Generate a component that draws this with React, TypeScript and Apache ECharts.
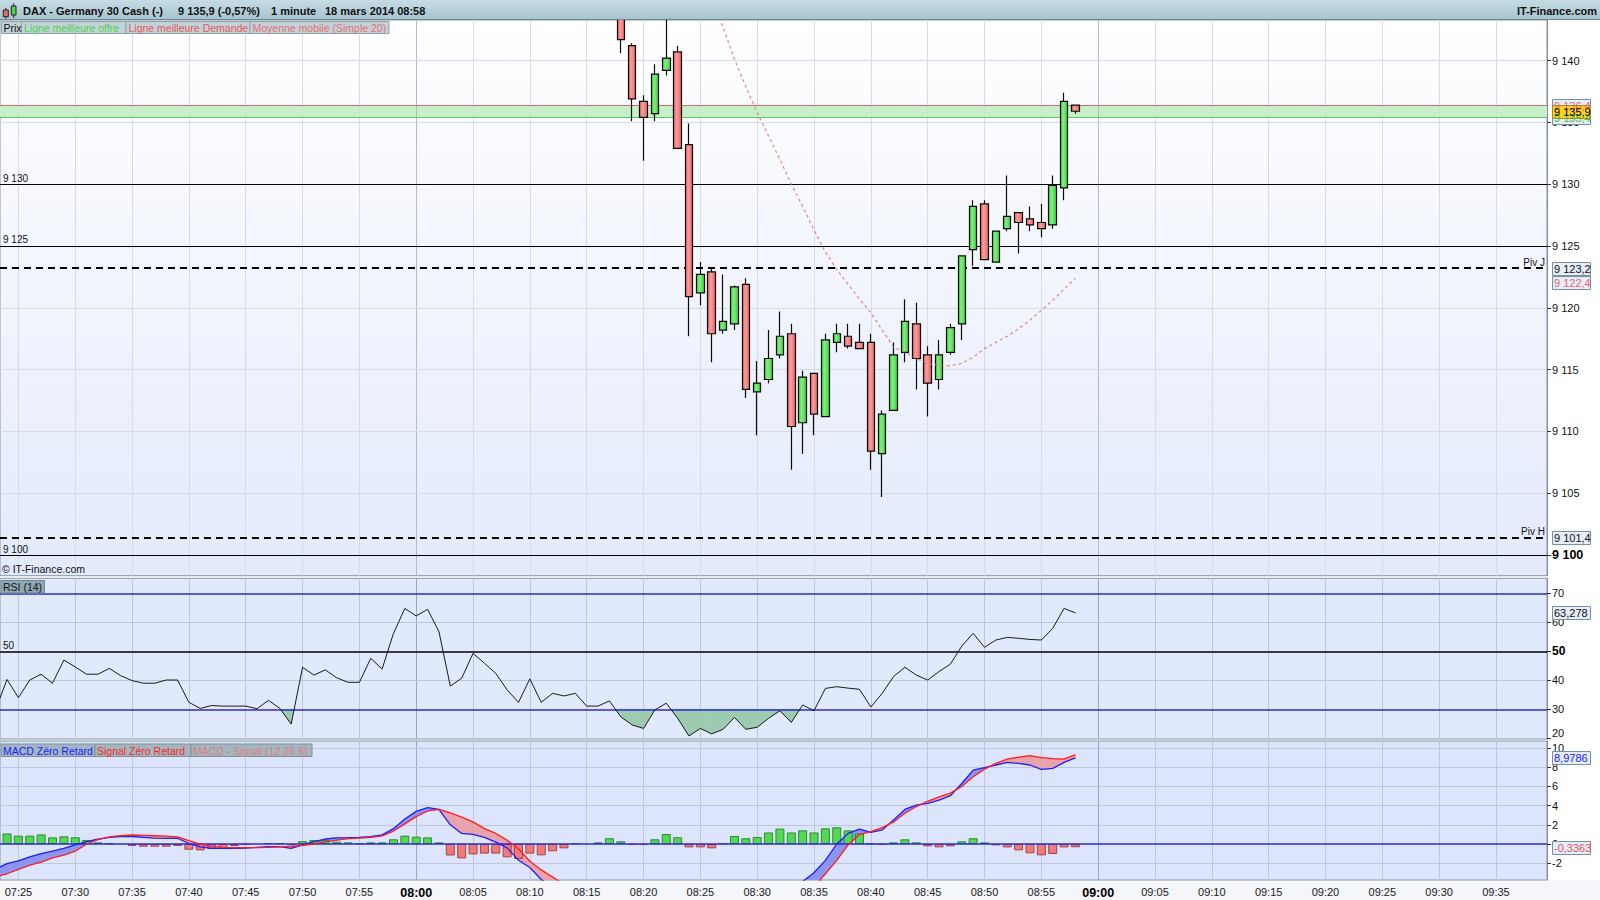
import React, { useEffect, useRef } from 'react';
import * as echarts from 'echarts';

const FONT = '"Liberation Sans", Arial, Helvetica, sans-serif';

// ---------- time axis: minutes after 07:00 ----------
const timeMin = 23.38;
const timeMax = 159.49;
const timeTicks = [25, 30, 35, 40, 45, 50, 55, 60, 65, 70, 75, 80, 85, 90, 95, 100, 105, 110, 115, 120, 125, 130, 135, 140, 145, 150, 155];

// ---------- price candles, one per minute from 08:18 ----------
const candleStart = 78;
const opens = [9145.5, 9141.2, 9136.7, 9135.7, 9139.2, 9140.7, 9133.2, 9121.2, 9122.9, 9118.2, 9118.7, 9121.9, 9113.2, 9114.2, 9116.2, 9117.9, 9110.7, 9114.7, 9111.2, 9117.2, 9117.7, 9117.2, 9117.2, 9108.2, 9111.7, 9116.4, 9118.7, 9116.2, 9114.2, 9116.4, 9118.7, 9124.7, 9128.4, 9123.7, 9126.4, 9127.7, 9127.2, 9126.9, 9126.7, 9129.7, 9136.4];
const closes = [9141.7, 9136.9, 9135.4, 9138.9, 9140.2, 9132.9, 9120.9, 9122.7, 9117.9, 9118.9, 9121.7, 9113.4, 9113.9, 9115.9, 9117.7, 9110.4, 9114.4, 9111.4, 9117.4, 9117.9, 9116.9, 9116.7, 9108.4, 9111.4, 9116.2, 9118.9, 9115.9, 9113.9, 9116.2, 9118.4, 9124.2, 9128.2, 9123.9, 9126.2, 9127.4, 9126.9, 9126.7, 9126.4, 9129.9, 9136.7, 9135.9];
const lows = [9140.6, 9135.1, 9131.9, 9135.1, 9138.8, 9132.9, 9117.7, 9120.2, 9115.6, 9117.9, 9118.2, 9112.7, 9109.7, 9113.9, 9115.9, 9106.9, 9108.2, 9109.7, 9111.2, 9116.4, 9116.7, 9116.7, 9106.9, 9104.7, 9111.7, 9115.6, 9113.4, 9111.2, 9113.4, 9116.2, 9117.4, 9123.4, 9123.9, 9123.7, 9126.2, 9124.4, 9126.2, 9125.7, 9126.4, 9128.7, 9135.7];
const highs = [9146.5, 9141.4, 9137.2, 9139.7, 9144.0, 9141.2, 9134.9, 9123.7, 9123.2, 9122.7, 9121.8, 9122.4, 9115.7, 9118.2, 9119.7, 9118.7, 9114.9, 9114.7, 9117.9, 9118.7, 9118.7, 9118.7, 9117.9, 9111.7, 9117.2, 9120.7, 9120.4, 9116.9, 9117.4, 9118.7, 9124.2, 9128.7, 9128.7, 9126.2, 9130.7, 9127.7, 9128.2, 9128.4, 9130.7, 9137.4, 9136.4];

// ---------- moving average (simple 20), from 08:26 ----------
const maStart = 86;
const maValues = [9144.8, 9142.7, 9140.1, 9137.9, 9135.8, 9133.9, 9132.0, 9130.0, 9128.2, 9126.3, 9124.5, 9123.1, 9121.9, 9120.7, 9119.6, 9118.2, 9116.8, 9116.4, 9115.9, 9115.5, 9115.35, 9115.3, 9115.5, 9116.0, 9116.7, 9117.2, 9117.7, 9118.3, 9119.0, 9119.8, 9120.6, 9121.5, 9122.4];

// ---------- price levels ----------
const bestDemand = 9136.4;
const bestOffer = 9135.4;
const lastPrice = 9135.9;
const pivotJ = 9123.2;
const pivotH = 9101.4;
const priceLines = [9100, 9125, 9130];
const priceTicks = [9100, 9105, 9110, 9115, 9120, 9125, 9130, 9135, 9140];
const priceMin = 9098.33;
const priceMax = 9143.28;

// ---------- RSI (14), from 07:23 ----------
const rsiStart = 23;
const rsiValues = [30, 40.3, 34.0, 40.1, 42.1, 39.0, 47.0, 44.6, 42.1, 42.1, 44.1, 41.6, 39.9, 39.0, 39.0, 40.1, 40.1, 32.4, 30.3, 31.3, 31.1, 31.1, 31.1, 30.2, 33.1, 30.3, 24.9, 44.5, 41.8, 43.6, 40.9, 39.3, 39.3, 47.6, 43.9, 56.2, 64.8, 62.2, 64.5, 56.8, 38.0, 40.7, 49.3, 45.9, 42.4, 36.7, 32.4, 40.5, 32.4, 35.5, 34.6, 35.5, 31.1, 31.1, 32.9, 27.4, 24.6, 23.4, 29.8, 32.1, 26.9, 20.8, 23.4, 21.5, 23.1, 27.2, 23.1, 23.8, 26.9, 29.5, 25.5, 31.5, 29.5, 37.2, 37.8, 37.3, 36.9, 30.8, 35.5, 41.3, 44.5, 41.8, 40.1, 43.0, 45.6, 51.8, 56.2, 51.4, 53.9, 54.8, 54.5, 54.1, 53.9, 57.9, 64.8, 63.278];
const rsiTicks = [20, 30, 40, 50, 60, 70];
const rsiLevels = [30, 50, 70];
const rsiMin = 19.75;
const rsiMax = 75.2;

// ---------- MACD zero lag (12 26 9), from 07:23 ----------
const macdStart = 23;
const macdValues = [-2.6, -2.05, -1.75, -1.35, -1.0, -0.75, -0.45, -0.1, 0.25, 0.5, 0.7, 0.78, 0.78, 0.7, 0.62, 0.58, 0.6, 0.05, -0.3, -0.45, -0.45, -0.45, -0.42, -0.35, -0.28, -0.28, -0.45, -0.1, 0.24, 0.52, 0.64, 0.66, 0.7, 0.76, 0.95, 1.6, 2.6, 3.4, 3.78, 3.6, 2.0, 1.1, 1.0, 0.7, 0.2, -0.4, -1.7, -2.45, -3.7, -4.6, -5.2, -5.7, -6.1, -6.4, -6.6, -7.0, -7.6, -8.1, -8.3, -8.3, -8.5, -9.2, -9.5, -9.7, -9.5, -9.0, -8.7, -8.1, -7.3, -6.3, -5.0, -3.9, -3.0, -1.7, 0.0, 1.1, 1.56, 1.2, 1.46, 2.5, 3.6, 4.06, 4.24, 4.58, 5.03, 6.3, 7.7, 7.95, 8.23, 8.5, 8.4, 8.23, 7.78, 7.88, 8.5, 8.9786];
const signalValues = [-3.4, -3.1, -2.65, -2.2, -1.9, -1.45, -1.15, -0.75, 0.0, 0.45, 0.75, 0.88, 0.94, 0.9, 0.86, 0.82, 0.74, 0.35, 0.0, -0.25, -0.35, -0.38, -0.38, -0.38, -0.35, -0.3, -0.25, -0.15, 0.0, 0.22, 0.4, 0.55, 0.62, 0.68, 0.85, 1.35, 2.1, 2.85, 3.45, 3.6, 3.25, 2.8, 2.3, 1.6, 1.1, 0.4, -0.5, -1.8, -2.7, -3.45, -4.2, -4.8, -5.3, -5.8, -6.2, -6.6, -7.0, -7.4, -7.8, -8.1, -8.4, -8.7, -8.9, -9.0, -9.1, -9.0, -8.8, -8.5, -8.0, -7.4, -6.5, -5.6, -4.5, -3.1, -1.7, -0.1, 1.0, 1.3, 1.7, 2.3, 3.2, 3.9, 4.45, 4.9, 5.3, 6.0, 7.0, 7.8, 8.4, 8.85, 9.05, 9.2, 9.0, 8.9, 8.85, 9.31];
const histValues = [1.1, 1.1, 0.87, 0.87, 1.0, 0.69, 0.8, 0.7, 0.42, 0.17, 0.07, 0, -0.2, -0.28, -0.28, -0.28, -0.2, -0.6, -0.66, -0.5, -0.45, -0.2, -0.1, 0, 0.1, 0.1, -0.14, 0.3, 0.42, 0.42, 0.24, 0.17, 0.1, 0.17, 0.17, 0.49, 0.87, 0.76, 0.69, 0.17, -1.2, -1.5, -1.08, -1.0, -1.0, -1.39, -1.56, -1.0, -1.18, -0.76, -0.45, 0.1, 0, 0.17, 0.6, 0.28, -0.1, -0.1, 0.49, 1.04, 0.7, -0.35, -0.35, -0.45, 0.1, 0.83, 0.6, 0.73, 1.2, 1.6, 1.2, 1.42, 1.2, 1.63, 1.74, 1.42, 1.1, 0.07, -0.1, 0.17, 0.49, 0.17, -0.24, -0.35, -0.24, 0.28, 0.6, 0.17, -0.14, -0.35, -0.66, -0.97, -1.18, -1.04, -0.35, -0.3363];
const macdTicks = [-2, 0, 2, 4, 6, 8, 10];
const macdMin = -3.75;
const macdMax = 10.73;

// ---------- layout ----------
const PLOT_W = 1547;
const G_MAIN = { left: 0, top: 20, width: PLOT_W, height: 555.7 };
const G_RSI = { left: 0, top: 578.3, width: PLOT_W, height: 160.7 };
const G_MACD = { left: 0, top: 741, width: PLOT_W, height: 139 };

const fr = (v: number, d: number) => {
  const neg = v < 0;
  const [ip, fp] = Math.abs(v).toFixed(d).split('.');
  const grouped = ip.replace(/\B(?=(\d{3})+(?!\d))/g, ' ');
  return (neg ? '-' : '') + grouped + (fp ? ',' + fp : '');
};
const hhmm = (m: number) => {
  const mm = Math.round(m);
  const h = 7 + Math.floor(mm / 60);
  const r = mm % 60;
  return `${String(h).padStart(2, '0')}:${String(r).padStart(2, '0')}`;
};

const lin = (stops: [number, string][], horizontal = false) => ({
  type: 'linear', x: 0, y: 0, x2: horizontal ? 1 : 0, y2: horizontal ? 0 : 1,
  colorStops: stops.map(([offset, color]) => ({ offset, color })),
});

const bandItem = (pos: string | null, neg: string | null) => (params: any, api: any) => {
  const t0 = api.value(0), a0 = api.value(1), b0 = api.value(2);
  const t1 = api.value(3), a1 = api.value(4), b1 = api.value(5);
  const d0 = a0 - b0, d1 = a1 - b1;
  const children: any[] = [];
  const poly = (pts: number[][], color: string | null) => {
    if (!color) return;
    children.push({
      type: 'polygon',
      shape: { points: pts.map((p) => api.coord(p)) },
      style: { fill: color, stroke: color, lineWidth: 0.6 },
    });
  };
  if (d0 * d1 < 0) {
    const f = d0 / (d0 - d1);
    const tc = t0 + f * (t1 - t0);
    const vc = a0 + f * (a1 - a0);
    poly([[t0, a0], [tc, vc], [t0, b0]], d0 > 0 ? pos : neg);
    poly([[tc, vc], [t1, a1], [t1, b1]], d1 > 0 ? pos : neg);
  } else if (d0 !== 0 || d1 !== 0) {
    poly([[t0, a0], [t1, a1], [t1, b1], [t0, b0]], d0 + d1 > 0 ? pos : neg);
  }
  return { type: 'group', children };
};

const vLines = (light: string, dark: string) =>
  timeTicks.map((t) => ({ xAxis: t, lineStyle: { color: t % 60 === 0 ? dark : light, width: 1, type: 'solid' } }));
const hLines = (vals: number[], color: string, width = 1, type: any = 'solid') =>
  vals.map((v) => ({ yAxis: v, lineStyle: { color, width, type } }));

const gridSeries = (idx: number, z: number, data: any[], extra: any = {}) => ({
  type: 'line', xAxisIndex: idx, yAxisIndex: idx, data: [], silent: true, z,
  markLine: { z, silent: true, symbol: 'none', animation: false, label: { show: false }, data },
  ...extra,
});

const yAxisBase = (gridIndex: number, min: number, max: number, ticks: number[], formatter: any, rich: any = {}) => ({
  type: 'value', gridIndex, position: 'right', min, max,
  axisLine: { show: true, lineStyle: { color: '#7f909c', width: 1 } },
  axisTick: { show: true, customValues: ticks, length: 4, lineStyle: { color: '#333' } },
  axisLabel: { customValues: ticks, margin: 5, color: '#111', fontSize: 11, fontFamily: FONT, formatter, rich },
  splitLine: { show: false },
});

const xAxisBase = (gridIndex: number, labels: boolean) => ({
  type: 'value', gridIndex, min: timeMin, max: timeMax,
  axisLine: { show: false }, axisTick: { show: false }, splitLine: { show: false },
  axisLabel: labels
    ? {
        customValues: timeTicks, margin: 6, color: '#1a1a1a', fontSize: 11, fontFamily: FONT,
        formatter: (v: number) => (Math.round(v) % 60 === 0 ? `{b|${hhmm(v)}}` : hhmm(v)),
        rich: { b: { fontWeight: 'bold', fontSize: 12.5, fontFamily: FONT, color: '#000' } },
      }
    : { show: false },
});

const txt = (x: number, y: number, text: string, fill: string, size = 10.5, weight = 'normal', align = 'left') => ({
  type: 'text', x, y, z: 30,
  style: { text, fill, fontSize: size, fontFamily: FONT, fontWeight: weight, align, verticalAlign: 'middle' },
});
const box = (x: number, y: number, w: number, h: number, fill: string, stroke: string, z = 29) => ({
  type: 'rect', z, shape: { x, y, width: w, height: h }, style: { fill, stroke, lineWidth: 1 },
});

function staticGraphics() {
  return [
    { type: 'rect', z: -10, shape: { x: 0, y: 20, width: PLOT_W, height: 555.7 }, style: { fill: lin([[0, '#ffffff'], [1, '#e3eafb']]) } },
    { type: 'rect', z: -10, shape: { x: 0, y: 578.3, width: PLOT_W, height: 160.7 }, style: { fill: '#e1e9fc' } },
    { type: 'rect', z: -10, shape: { x: 0, y: 741, width: PLOT_W, height: 139 }, style: { fill: '#dce5fb' } },
    { type: 'rect', z: -10, shape: { x: 0, y: 880, width: 1600, height: 20 }, style: { fill: '#f4f6fa' } },
    // header
    { type: 'rect', z: 28, shape: { x: 0, y: 0, width: 1600, height: 20 }, style: { fill: lin([[0, '#c6dce4'], [1, '#a6c3ce']]) } },
    { type: 'line', z: 28, shape: { x1: 0, y1: 19.5, x2: 1600, y2: 19.5 }, style: { stroke: '#6d8894', lineWidth: 1 } },
    { type: 'line', z: 30, shape: { x1: 5.8, y1: 8, x2: 5.8, y2: 18.7 }, style: { stroke: '#222', lineWidth: 1 } },
    { type: 'rect', z: 31, shape: { x: 3.3, y: 10, width: 5, height: 6.7 }, style: { fill: '#e86a6a', stroke: '#222', lineWidth: 1 } },
    { type: 'line', z: 30, shape: { x1: 13.7, y1: 3.3, x2: 13.7, y2: 18 }, style: { stroke: '#222', lineWidth: 1 } },
    { type: 'rect', z: 31, shape: { x: 11.3, y: 6, width: 4.7, height: 9 }, style: { fill: '#4cd44c', stroke: '#222', lineWidth: 1 } },
    txt(23, 11, 'DAX - Germany 30 Cash (-)', '#111', 11, 'bold'),
    txt(178, 11, '9 135,9 (-0,57%)', '#111', 11, 'bold'),
    txt(271, 11, '1 minute', '#111', 11, 'bold'),
    txt(325, 11, '18 mars 2014 08:58', '#111', 11, 'bold'),
    txt(1597, 11, 'IT-Finance.com', '#111', 11, 'bold', 'right'),
    // price legend
    box(1.5, 21.5, 20, 12, '#c3d1d9', '#8ea3ad'),
    txt(3.5, 27.5, 'Prix', '#111'),
    box(21.5, 21.5, 104.5, 12, '#c3d1d9', '#8ea3ad'),
    txt(24, 27.5, 'Ligne meilleure offre', '#4fd44f'),
    box(126, 21.5, 124, 12, '#c3d1d9', '#8ea3ad'),
    txt(128.5, 27.5, 'Ligne meilleure Demande', '#e05a5a'),
    box(250, 21.5, 139, 12, '#c3d1d9', '#8ea3ad'),
    txt(252.5, 27.5, 'Moyenne mobile (Simple 20)', '#e07272'),
    txt(2, 568.5, '© IT-Finance.com', '#111', 10.5),
    // RSI legend
    box(1, 580.5, 43.5, 12.5, '#8fa8b3', '#6f8792'),
    txt(3, 587, 'RSI (14)', '#111'),
    // MACD legend
    box(1, 744, 94, 12.5, '#a2b6c0', '#7d929c'),
    txt(3, 750.5, 'MACD Zéro Retard', '#1a1aff'),
    box(95, 744, 96, 12.5, '#a2b6c0', '#7d929c'),
    txt(97, 750.5, 'Signal Zéro Retard', '#ff1f1f'),
    box(191, 744, 121, 12.5, '#a2b6c0', '#7d929c'),
    txt(193, 750.5, 'MACD - Signal (12 26 9)', '#e27a7a'),
  ];
}

const valueBox = (yc: number, text: string, color: string, fill = '#e6ecf8', stroke = '#7890a0') => [
  box(1552.5, Math.round(yc - 6.5) + 0.5, 38, 13, fill, stroke, 50),
  { type: 'text', z: 51, x: 1554, y: yc + 0.5, style: { text, fill: color, fontSize: 11, fontFamily: FONT, align: 'left', verticalAlign: 'middle' } },
];

function buildOption() {
  const candleData = opens.map((o, i) => [candleStart + i, o, closes[i], lows[i], highs[i]]);
  const maData = maValues.map((v, i) => [maStart + i, v]);
  const rsiData = rsiValues.map((v, i) => [rsiStart + i, v]);
  const macdData = macdValues.map((v, i) => [macdStart + i, v]);
  const signalData = signalValues.map((v, i) => [macdStart + i, v]);
  const histData = histValues
    .map((v, i) =>
      v === 0
        ? null
        : {
            value: [macdStart + i, v],
            itemStyle: v > 0
              ? { color: '#52d852', borderColor: '#2f8a2f', borderWidth: 1 }
              : { color: '#ef7a7a', borderColor: '#a84242', borderWidth: 1 },
          }
    )
    .filter(Boolean);
  const rsiSegs = rsiValues.slice(0, -1).map((v, i) => [rsiStart + i, v, 30, rsiStart + i + 1, rsiValues[i + 1], 30]);
  const macdSegs = macdValues.slice(0, -1).map((v, i) => [macdStart + i, v, signalValues[i], macdStart + i + 1, macdValues[i + 1], signalValues[i + 1]]);
  const segDims = ['t0', 'a0', 'b0', 't1', 'a1', 'b1'];

  const gridCommon = { show: true, borderColor: '#8797a3', borderWidth: 1, backgroundColor: 'transparent', containLabel: false, outerBoundsMode: 'none' };

  const blackLabel = (text: string) => ({
    show: true, position: 'insideStartTop', formatter: text, color: '#111', fontSize: 10, fontFamily: FONT, distance: [3, 1],
  });
  const pivLabel = (text: string) => ({
    show: true, position: 'insideEndTop', formatter: text, color: '#111', fontSize: 10, fontFamily: FONT, distance: [2, 1],
  });

  return {
    animation: false,
    backgroundColor: '#ffffff',
    grid: [{ ...gridCommon, ...G_MAIN }, { ...gridCommon, ...G_RSI }, { ...gridCommon, ...G_MACD }],
    xAxis: [xAxisBase(0, false), xAxisBase(1, false), xAxisBase(2, true)],
    yAxis: [
      yAxisBase(0, priceMin, priceMax, priceTicks, (v: number) => (v === priceLines[0] ? `{b|${fr(v, 0)}}` : fr(v, 0)), {
        b: { fontWeight: 'bold', fontSize: 12.5, fontFamily: FONT, color: '#000' },
      }),
      yAxisBase(1, rsiMin, rsiMax, rsiTicks, (v: number) => (v === 50 ? `{b|${v}}` : v === 20 ? `{lo|${v}}` : String(v)), {
        b: { fontWeight: 'bold', fontSize: 12, fontFamily: FONT, color: '#000' },
        lo: { fontSize: 11, fontFamily: FONT, color: '#111', padding: [0, 0, 10, 0] },
      }),
      yAxisBase(2, macdMin, macdMax, macdTicks, (v: number) => String(v)),
    ],
    graphic: staticGraphics(),
    series: [
      // ----- main panel -----
      gridSeries(0, 1, [
        ...vLines('#d6dbe7', '#b3bccd'),
        ...hLines(priceTicks.filter((p) => !priceLines.includes(p)), '#d6dbe7'),
      ], {
        markArea: { silent: true, z: 1, itemStyle: { color: '#c7efc9' }, data: [[{ yAxis: bestOffer }, { yAxis: bestDemand }]] },
      }),
      gridSeries(0, 2, [
        ...priceLines.map((p) => ({ yAxis: p, lineStyle: { color: '#000', width: 1.2, type: 'solid' }, label: blackLabel(fr(p, 0)) })),
        { yAxis: pivotJ, lineStyle: { color: '#000', width: 2, type: [7, 5] }, label: pivLabel('Piv J') },
        { yAxis: pivotH, lineStyle: { color: '#000', width: 2, type: [7, 5] }, label: pivLabel('Piv H') },
        { yAxis: bestDemand, lineStyle: { color: '#d86a6a', width: 1, type: 'solid' } },
        { yAxis: bestOffer, lineStyle: { color: '#5cc85c', width: 1, type: 'solid' } },
      ]),
      {
        type: 'candlestick', xAxisIndex: 0, yAxisIndex: 0, z: 3, silent: true, clip: true,
        barWidth: 8,
        encode: { x: 0, y: [1, 2, 3, 4] },
        data: candleData,
        itemStyle: {
          color: lin([[0, '#45d445'], [0.4, '#7ff07f'], [1, '#3fcc3f']], true),
          color0: lin([[0, '#e86464'], [0.4, '#fa9e9e'], [1, '#e66262']], true),
          borderColor: '#0a0a0a', borderColor0: '#0a0a0a', borderWidth: 1.2,
        },
      },
      {
        type: 'line', xAxisIndex: 0, yAxisIndex: 0, z: 4, silent: true, symbol: 'none', data: maData,
        lineStyle: { color: '#e27070', width: 1.2, type: [3, 3], opacity: 0.85 },
      },
      // ----- RSI panel -----
      gridSeries(1, 1, [...vLines('#bdc7db', '#99a7bf'), ...hLines([40, 60], '#bdc7db')]),
      {
        type: 'custom', xAxisIndex: 1, yAxisIndex: 1, z: 2, silent: true, clip: true,
        dimensions: segDims, encode: { x: [0, 3], y: [1, 2, 4, 5] },
        renderItem: bandItem(null, '#9dcbb0'), data: rsiSegs,
      },
      gridSeries(1, 3, [
        { yAxis: rsiLevels[2], lineStyle: { color: '#2b2bc0', width: 1.5, type: 'solid' } },
        { yAxis: rsiLevels[0], lineStyle: { color: '#2b2bc0', width: 1.5, type: 'solid' } },
        { yAxis: rsiLevels[1], lineStyle: { color: '#000', width: 1.5, type: 'solid' }, label: blackLabel('50') },
      ]),
      {
        type: 'line', xAxisIndex: 1, yAxisIndex: 1, z: 4, silent: true, symbol: 'none', data: rsiData,
        lineStyle: { color: '#1a1a1a', width: 1 },
      },
      // ----- MACD panel -----
      gridSeries(2, 1, [...vLines('#bdc7db', '#99a7bf'), ...hLines([-2, 2, 4, 6, 8, 10], '#bdc7db')]),
      {
        type: 'custom', xAxisIndex: 2, yAxisIndex: 2, z: 2, silent: true, clip: true,
        dimensions: segDims, encode: { x: [0, 3], y: [1, 2, 4, 5] },
        renderItem: bandItem('#8d95f3', '#e9a3ad'), data: macdSegs,
      },
      {
        type: 'bar', xAxisIndex: 2, yAxisIndex: 2, z: 3, silent: true, barWidth: 9, data: histData,
      },
      gridSeries(2, 4, [{ yAxis: 0, lineStyle: { color: '#2b2bd0', width: 1.5, type: 'solid' } }]),
      {
        type: 'line', xAxisIndex: 2, yAxisIndex: 2, z: 5, silent: true, symbol: 'none', data: macdData,
        lineStyle: { color: '#1f1fff', width: 1.3 },
      },
      {
        type: 'line', xAxisIndex: 2, yAxisIndex: 2, z: 5, silent: true, symbol: 'none', data: signalData,
        lineStyle: { color: '#ff1f1f', width: 1.3 },
      },
    ],
  };
}

export default function App() {
  const ref = useRef<HTMLDivElement>(null);
  useEffect(() => {
    if (!ref.current) return;
    const chart = echarts.init(ref.current, undefined, { renderer: 'svg', width: 1600, height: 900 });
    chart.setOption(buildOption() as any);
    const py = (axis: number, v: number) => chart.convertToPixel({ yAxisIndex: axis } as any, v) as unknown as number;
    const maLast = maValues[maValues.length - 1];
    const rsiLast = rsiValues[rsiValues.length - 1];
    const macdLast = macdValues[macdValues.length - 1];
    const histLast = histValues[histValues.length - 1];
    const yJ = py(0, pivotJ);
    const boxes = [
      ...valueBox(py(0, bestDemand), fr(bestDemand, 1), '#e06a6a'),
      ...valueBox(py(0, bestOffer), fr(bestOffer, 1), '#44bb44'),
      ...valueBox(py(0, lastPrice), fr(lastPrice, 1), '#000', '#ffd21a', '#a08a30'),
      ...valueBox(yJ, fr(pivotJ, 1), '#111'),
      ...valueBox(Math.max(py(0, maLast), yJ + 14.5), fr(maLast, 1), '#e06a6a'),
      ...valueBox(py(0, pivotH), fr(pivotH, 1), '#111'),
      ...valueBox(py(1, rsiLast), fr(rsiLast, 3), '#111'),
      ...valueBox(py(2, macdLast), fr(macdLast, 4), '#2020ff'),
      ...valueBox(py(2, histLast), fr(histLast, 4), '#e05a5a'),
    ];
    chart.setOption({ graphic: [...staticGraphics(), ...boxes] } as any);
    return () => chart.dispose();
  }, []);
  return <div ref={ref} style={{ position: 'fixed', left: 0, top: 0, width: 1600, height: 900, background: '#fff' }} />;
}
